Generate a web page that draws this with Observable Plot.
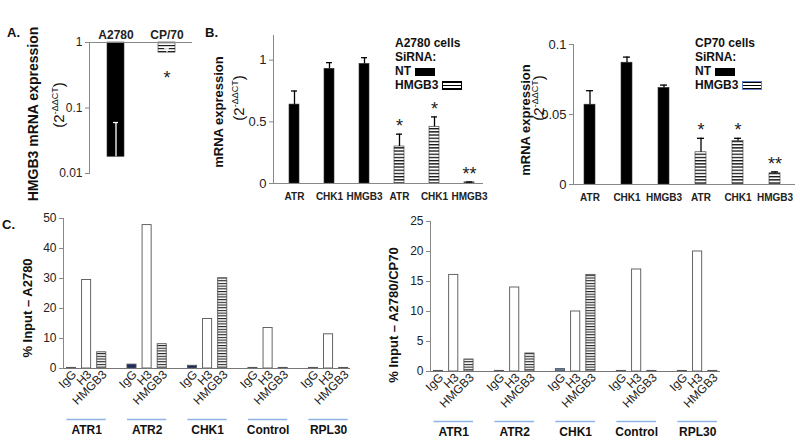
<!DOCTYPE html>
<html><head><meta charset="utf-8">
<script src="https://cdn.jsdelivr.net/npm/d3@7"></script>
<script src="https://cdn.jsdelivr.net/npm/@observablehq/plot@0.6"></script>
<style>
body{margin:0;background:#fff;font-family:"Liberation Sans",Arial,sans-serif;}
#fig{position:relative;width:800px;height:440px;overflow:hidden;background:#fff;color:#111}
.lbl{position:absolute;white-space:nowrap;color:#111}
.b{font-weight:bold}
.rot{transform:translate(-50%,-50%) rotate(-90deg)}
.letter{font-weight:bold;font-size:13px;transform:translateY(-50%)}
.leg{position:absolute;font-weight:bold;font-size:12px;line-height:14px;color:#111;white-space:nowrap}
.box{display:inline-block;width:20px;height:8px;margin-left:4px;vertical-align:middle;box-sizing:border-box}
.blk{background:#000}
.str{background:repeating-linear-gradient(#000 0 1.2px,#fff 1.2px 2.8px);border:1px solid #000;height:9px}
.strb{border-color:#5b84c4}
sup{font-size:9px}
</style></head><body>
<svg width="0" height="0" style="position:absolute">
 <defs>
  <pattern id="stripesA" patternUnits="userSpaceOnUse" width="6" height="3"><rect width="6" height="3" fill="#fff"/><rect width="6" height="1.2" fill="#222"/></pattern>
  <pattern id="stripesB" patternUnits="userSpaceOnUse" width="6" height="3.2"><rect width="6" height="3.2" fill="#fff"/><rect width="6" height="1.3" fill="#111"/></pattern>
  <pattern id="stripesC" patternUnits="userSpaceOnUse" width="6" height="2.7"><rect width="6" height="2.7" fill="#fff"/><rect width="6" height="1.1" fill="#222"/></pattern>
 </defs>
</svg>
<div id="fig"></div>
<script>
// ---------------- DATA ----------------
// Panel A: HMGB3 mRNA expression (log scale, bars hang from 1)
const cellLines = ["A2780", "CP/70"];
const hmgb3Expression = [0.018, 0.70];
const hmgb3ErrorTop = [0.06, 0.80];
const hmgb3Sig = ["", "*"];
const ticksA = [0.01, 0.1, 1];

// Panel B: mRNA expression after siRNA
const genes = ["ATR", "CHK1", "HMGB3"];
const sirnas = ["NT", "HMGB3"];
const a2780NT = [0.64, 0.93, 0.97];
const a2780NTerr = [0.75, 0.98, 1.02];
const a2780KD = [0.30, 0.46, 0.01];
const a2780KDerr = [0.40, 0.54, 0.012];
const a2780Sig = ["", "", "", "*", "*", "**"];
const cp70NT = [0.057, 0.087, 0.069];
const cp70NTerr = [0.067, 0.091, 0.071];
const cp70KD = [0.023, 0.031, 0.008];
const cp70KDerr = [0.033, 0.033, 0.009];
const cp70Sig = ["", "", "", "*", "*", "**"];
const ticksB1 = [0, 0.5, 1];
const ticksB2 = [0, 0.05, 0.1];

// Panel C: ChIP, % input
const loci = ["ATR1", "ATR2", "CHK1", "Control", "RPL30"];
const antibodies = ["IgG", "H3", "HMGB3"];
const chipA2780IgG = [0.2, 1.3, 0.9, 0.2, 0.2];
const chipA2780H3 = [29.5, 47.8, 16.5, 13.5, 11.4];
const chipA2780HMGB3 = [5.4, 8.1, 30.1, 0.2, 0.2];
const chipCP70IgG = [0.1, 0.1, 0.4, 0.1, 0.1];
const chipCP70H3 = [16.1, 14.0, 10.0, 17.0, 20.0];
const chipCP70HMGB3 = [2.0, 3.0, 16.1, 0.1, 0.1];
const ticksC1 = [0, 10, 20, 30, 40, 50];
const ticksC2 = [0, 5, 10, 15, 20, 25];

// ---------------- BUILD ----------------
const FONT = '"Liberation Sans", Arial, sans-serif';
const fig = document.getElementById("fig");
function place(el, left, top) {
  el.style.position = "absolute";
  el.style.left = left + "px"; el.style.top = top + "px";
  fig.appendChild(el);
}
const fmt = d => String(d);

// Panel A
const rowsA = cellLines.map((c, i) => ({line: c, value: hmgb3Expression[i], err: hmgb3ErrorTop[i], sig: hmgb3Sig[i]}));
const chartA = Plot.plot({
  width: 200, height: 185, marginLeft: 89, marginRight: 8, marginTop: 42, marginBottom: 12,
  style: {fontFamily: FONT, color: "#222", background: "transparent", overflow: "visible"},
  x: {type: "band", domain: cellLines, paddingInner: 0.667, paddingOuter: 0.343},
  y: {type: "log", domain: [0.01, 1]},
  color: {type: "ordinal", domain: cellLines, range: ["#000", "url(#stripesA)"]},
  marks: [
    Plot.barY(rowsA, {x: "line", y1: "value", y2: () => 1, fill: "line", stroke: "#333", strokeWidth: 0.6}),
    Plot.ruleX(rowsA, {x: "line", y1: "value", y2: "err", stroke: "#fff", strokeWidth: 1.3}),
    Plot.tickY(rowsA, {x: "line", y: "err", stroke: "#fff", strokeWidth: 1.3, insetLeft: 6, insetRight: 6}),
    Plot.text(rowsA, {x: "line", y: "value", text: "sig", dy: 26, fontSize: 18}),
    Plot.ruleY([1], {stroke: "#888"}),
    Plot.frame({anchor: "left", stroke: "#888"}),
    Plot.axisY({ticks: ticksA, tickFormat: fmt, tickSize: 4, tickPadding: 3, fontSize: 12, stroke: "#888", label: null}),
    Plot.axisX({anchor: "top", tickSize: 0, tickPadding: 4, fontSize: 12, fontWeight: "bold", label: null})
  ]
});
place(chartA, 0, 0);

// Panel B
function tableB(nt, ntErr, kd, kdErr, sig) {
  const rows = [];
  sirnas.forEach((s, si) => genes.forEach((g, gi) => {
    rows.push({key: s + ":" + g, gene: g, sirna: s,
      value: si ? kd[gi] : nt[gi], err: si ? kdErr[gi] : ntErr[gi], sig: sig[si * genes.length + gi]});
  }));
  return rows;
}
function chartB(rows, o) {
  return Plot.plot({
    width: 300, height: 205, marginLeft: 73, marginRight: o.marginRight, marginTop: o.marginTop, marginBottom: o.marginBottom,
    style: {fontFamily: FONT, color: "#222", background: "transparent", overflow: "visible"},
    x: {type: "band", domain: rows.map(d => d.key), range: o.range, paddingInner: o.padIn, paddingOuter: o.padOut},
    y: {domain: o.yDomain},
    color: {type: "ordinal", domain: sirnas, range: ["#000", "url(#stripesB)"]},
    marks: [
      Plot.barY(rows, {x: "key", y: "value", fill: "sirna", stroke: "#333", strokeWidth: 0.6}),
      Plot.ruleX(rows, {x: "key", y1: "value", y2: "err", stroke: "#000", strokeWidth: 1.3}),
      Plot.tickY(rows, {x: "key", y: "err", stroke: "#000", strokeWidth: 1.3, insetLeft: 2, insetRight: 2}),
      Plot.text(rows, {x: "key", y: "err", text: "sig", dy: -8, fontSize: 18}),
      Plot.ruleY([0], {stroke: "#888"}),
      Plot.frame({anchor: "left", stroke: "#888"}),
      Plot.axisY({ticks: o.ticks, tickFormat: fmt, tickSize: 4, tickPadding: 3, fontSize: 13, stroke: "#888", label: null}),
      Plot.axisX({tickFormat: k => k.split(":")[1], tickSize: 0, tickPadding: 9, fontSize: 10, fontWeight: "bold", label: null})
    ]
  });
}
const chartB1 = chartB(tableB(a2780NT, a2780NTerr, a2780KD, a2780KDerr, a2780Sig),
  {marginRight: 17, marginTop: 35, marginBottom: 22, range: [73, 290], padIn: 0.718, padOut: 0.42, yDomain: [0, 1.2], ticks: ticksB1});
place(chartB1, 200, 0);
const chartB2 = chartB(tableB(cp70NT, cp70NTerr, cp70KD, cp70KDerr, cp70Sig),
  {marginRight: 5, marginTop: 44, marginBottom: 21, range: [73, 290], padIn: 0.707, padOut: 0.245, yDomain: [0, 0.1], ticks: ticksB2});
place(chartB2, 500, 0);

// Panel C
const SLOTS = antibodies.length + 1; // one empty slot between loci
const HALF = 0.3;
function tableC(igg, h3, hm) {
  const cols = [igg, h3, hm];
  return loci.flatMap((l, li) => antibodies.map((a, ai) => ({locus: l, ab: a, slot: li * SLOTS + ai, value: cols[ai][li]})));
}
function chartC(rows, o) {
  const groups = loci.map((l, li) => ({locus: l, x1: li * SLOTS - HALF, x2: li * SLOTS + antibodies.length - 1 + HALF, mid: li * SLOTS + 1}));
  return Plot.plot({
    width: 400, height: 230, marginLeft: o.marginLeft, marginRight: o.marginRight, marginTop: o.marginTop, marginBottom: o.marginBottom,
    style: {fontFamily: FONT, color: "#222", background: "transparent", overflow: "visible"},
    x: {domain: o.xDomain},
    y: {domain: o.yDomain},
    color: {type: "ordinal", domain: antibodies, range: [o.iggColor, "#fff", "url(#stripesC)"]},
    marks: [
      Plot.rect(rows, {x1: d => d.slot - HALF, x2: d => d.slot + HALF, y1: 0, y2: "value", fill: "ab", stroke: "#555", strokeWidth: 0.9}),
      Plot.ruleY([0], {stroke: "#777"}),
      Plot.frame({anchor: "left", stroke: "#888"}),
      Plot.axisY({ticks: o.ticks, tickFormat: fmt, tickSize: 4, tickPadding: 3, fontSize: 12, stroke: "#888", label: null}),
      Plot.axisX({ticks: rows.map(d => d.slot), tickFormat: s => antibodies[s % SLOTS], tickRotate: -45, tickSize: 0, tickPadding: 4, dx: 3, fontSize: 12, label: null}),
      Plot.ruleY(groups, {x1: "x1", x2: "x2", y: () => 0, dy: o.lineDy, stroke: "#8fb3e6", strokeWidth: 1.5}),
      Plot.text(groups, {x: "mid", y: () => 0, text: "locus", dy: o.textDy, fontSize: 12, fontWeight: "bold", fill: "#111"})
    ]
  });
}
const chartC1 = chartC(tableC(chipA2780IgG, chipA2780H3, chipA2780HMGB3),
  {marginLeft: 63, marginRight: 50, marginTop: 8, marginBottom: 72, xDomain: [-0.529, 18.45], yDomain: [0, 50], ticks: ticksC1, iggColor: "#1c2d5e", lineDy: 51, textDy: 62});
place(chartC1, 0, 210);
const chartC2 = chartC(tableC(chipCP70IgG, chipCP70H3, chipCP70HMGB3),
  {marginLeft: 30, marginRight: 80, marginTop: 11, marginBottom: 69, xDomain: [-0.524, 18.5], yDomain: [0, 25], ticks: ticksC2, iggColor: "#5a7fa8", lineDy: 50, textDy: 61});
place(chartC2, 400, 210);

// ---------------- TEXT (titles, axis labels, legends) ----------------
function label(html, cls, x, y, style) {
  const d = document.createElement("div");
  d.className = "lbl " + cls;
  d.innerHTML = html;
  if (style) d.setAttribute("style", style);
  d.style.left = x + "px"; d.style.top = y + "px";
  fig.appendChild(d);
}
label("A.", "letter", 7, 32);
label("B.", "letter", 205, 32);
label("C.", "letter", 2, 224);
const expr = "(2<sup>-ΔΔCT</sup>)";
label("HMGB3 mRNA expression", "rot b", 33, 114, "font-size:14px");
label(expr, "rot", 58, 105, "font-size:15px");
label("mRNA expression", "rot b", 218, 112, "font-size:13px");
label(expr, "rot", 238, 98, "font-size:15px");
label("mRNA expression", "rot b", 525, 120, "font-size:13px");
label(expr, "rot", 538, 98, "font-size:15px");
label("% Input – A2780", "rot b", 27, 308, "font-size:13px");
label("% Input – A2780/CP70", "rot b", 393, 315, "font-size:13px");

function legend(title, x, boxCls) {
  const d = document.createElement("div");
  d.className = "leg";
  d.innerHTML = title + "<br>SiRNA:<br>" + sirnas[0] + '<span class="box blk"></span><br>' + sirnas[1] + '<span class="box str ' + boxCls + '"></span>';
  d.style.left = x + "px"; d.style.top = "36px";
  fig.appendChild(d);
}
legend("A2780 cells", 395, "");
legend("CP70 cells", 695, "strb");
</script>
</body></html>
